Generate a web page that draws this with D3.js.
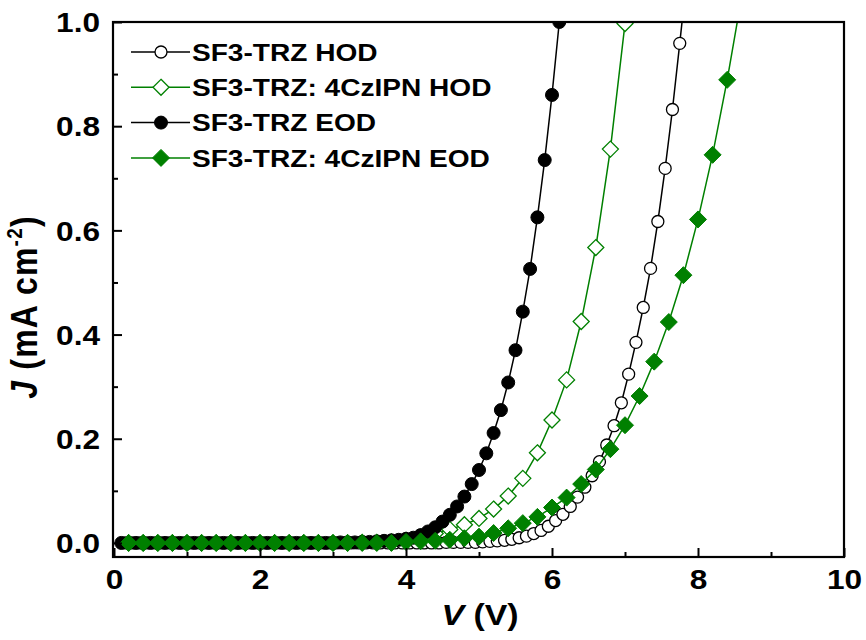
<!DOCTYPE html>
<html>
<head>
<meta charset="utf-8">
<script src="https://cdn.jsdelivr.net/npm/d3@7/dist/d3.min.js"></script>
<style>
  html, body { margin: 0; padding: 0; background: #fff; }
  svg { display: block; font-family: "Liberation Sans", Arial, sans-serif; }
</style>
</head>
<body>
<svg id="chart" width="866" height="640"></svg>
<script>
// Current density vs. voltage for hole-only (HOD) and electron-only (EOD) devices
const hodV = [0.15,0.25,0.35,0.45,0.55,0.65,0.75,0.85,0.95,1.05,1.15,1.25,1.35,1.45,1.55,1.65,1.75,1.85,1.95,2.05,2.15,2.25,2.35,2.45,2.55,2.65,2.75,2.85,2.95,3.05,3.15,3.25,3.35,3.45,3.55,3.65,3.75,3.85,3.95,4.05,4.15,4.25,4.35,4.45,4.55,4.65,4.75,4.85,4.95,5.05,5.15,5.25,5.35,5.45,5.55,5.65,5.75,5.85,5.95,6.05,6.15,6.25,6.35,6.45,6.55,6.65,6.75,6.85,6.95,7.05,7.15,7.25,7.35,7.45,7.55,7.65,7.75,7.85];
const hodJ = [0,0,0,0,0,0,0,0,0,0,0,0,0,0,0,0,0,0,0,0,0,0,0,0,0,0,0,0,0,0,0,0,0,0,0,0,0,0,0,0,0,0,0,0,0.001,0.001,0.001,0.001,0.001,0.002,0.003,0.004,0.005,0.007,0.010,0.013,0.018,0.024,0.032,0.043,0.055,0.070,0.088,0.107,0.129,0.156,0.188,0.225,0.269,0.324,0.385,0.452,0.527,0.617,0.719,0.832,0.959,1.090];

const czHodV = [0.2,0.4,0.6,0.8,1.0,1.2,1.4,1.6,1.8,2.0,2.2,2.4,2.6,2.8,3.0,3.2,3.4,3.6,3.8,4.0,4.2,4.4,4.6,4.8,5.0,5.2,5.4,5.6,5.8,6.0,6.2,6.4,6.6,6.8,7.0];
const czHodJ = [0,0,0,0,0,0,0,0,0,0,0,0,0,0,0,0,0.001,0.001,0.002,0.005,0.011,0.018,0.026,0.035,0.047,0.065,0.090,0.124,0.173,0.236,0.313,0.425,0.567,0.756,0.997];

const eodV = [0.1,0.2,0.3,0.4,0.5,0.6,0.7,0.8,0.9,1.0,1.1,1.2,1.3,1.4,1.5,1.6,1.7,1.8,1.9,2.0,2.1,2.2,2.3,2.4,2.5,2.6,2.7,2.8,2.9,3.0,3.1,3.2,3.3,3.4,3.5,3.6,3.7,3.8,3.9,4.0,4.1,4.2,4.3,4.4,4.5,4.6,4.7,4.8,4.9,5.0,5.1,5.2,5.3,5.4,5.5,5.6,5.7,5.8,5.9,6.0,6.1];
const eodJ = [0,0,0,0,0,0,0,0,0,0,0,0,0,0,0,0,0,0,0,0,0,0,0,0,0,0,0,0,0,0,0.001,0.001,0.001,0.002,0.002,0.003,0.004,0.005,0.006,0.008,0.010,0.015,0.022,0.030,0.041,0.054,0.070,0.089,0.113,0.140,0.172,0.211,0.255,0.308,0.370,0.444,0.526,0.625,0.735,0.860,1.000];

const czEodV = [0.2,0.4,0.6,0.8,1.0,1.2,1.4,1.6,1.8,2.0,2.2,2.4,2.6,2.8,3.0,3.2,3.4,3.6,3.8,4.0,4.2,4.4,4.6,4.8,5.0,5.2,5.4,5.6,5.8,6.0,6.2,6.4,6.6,6.8,7.0,7.2,7.4,7.6,7.8,8.0,8.2,8.4,8.6];
const czEodJ = [0,0,0,0,0,0,0,0,0,0,0,0,0,0,0,0,0,0,0,0.002,0.003,0.004,0.006,0.009,0.012,0.019,0.028,0.038,0.050,0.068,0.087,0.113,0.141,0.180,0.226,0.282,0.348,0.424,0.514,0.621,0.745,0.889,1.050];

const seriesNames = ["SF3-TRZ HOD", "SF3-TRZ: 4CzIPN HOD", "SF3-TRZ EOD", "SF3-TRZ: 4CzIPN EOD"];
const xTicks = [0, 2, 4, 6, 8, 10];
const xMinorTicks = [1, 3, 5, 7, 9];
const yTicks = [0.0, 0.2, 0.4, 0.6, 0.8, 1.0];
const yMinorTicks = [0.1, 0.3, 0.5, 0.7, 0.9];

const GREEN = "#008000";
const series = [
  { name: seriesNames[0], V: hodV,   J: hodJ,   color: "#000", shape: "circle",  filled: false },
  { name: seriesNames[1], V: czHodV, J: czHodJ, color: GREEN,  shape: "diamond", filled: false },
  { name: seriesNames[2], V: eodV,   J: eodJ,   color: "#000", shape: "circle",  filled: true  },
  { name: seriesNames[3], V: czEodV, J: czEodJ, color: GREEN,  shape: "diamond", filled: true  }
];

const L = 113, R = 844, T = 22, B = 557;
const x = d3.scaleLinear().domain([0, 10]).range([114, 844]);
const y = d3.scaleLinear().domain([-0.027, 1.0]).range([B, T]);
const SX = 1.13; // horizontal stretch of the bold lettering

const svg = d3.select("#chart");

svg.append("defs").append("clipPath").attr("id", "plotClip")
  .append("rect").attr("x", L).attr("y", T).attr("width", R - L).attr("height", B - T);

// marker path generators
function markerPath(shape, filled) {
  if (shape === "circle") {
    const r = filled ? 6.5 : 6;
    return `M${-r},0A${r},${r} 0 1,0 ${r},0A${r},${r} 0 1,0 ${-r},0Z`;
  }
  const d = filled ? 8.5 : 8;
  return `M0,${-d}L${d},0L0,${d}L${-d},0Z`;
}

// data
const plot = svg.append("g").attr("clip-path", "url(#plotClip)");
const line = d3.line().x(d => x(d[0])).y(d => y(d[1]));

series.forEach(s => {
  const pts = s.V.map((v, i) => [v, s.J[i]]);
  const g = plot.append("g");
  g.append("path").datum(pts)
    .attr("d", line)
    .attr("fill", "none")
    .attr("stroke", s.color)
    .attr("stroke-width", 1.5);
  g.selectAll("path.m").data(pts).join("path")
    .attr("class", "m")
    .attr("d", markerPath(s.shape, s.filled))
    .attr("transform", d => `translate(${x(d[0])},${y(d[1])})`)
    .attr("fill", s.filled ? s.color : "#fff")
    .attr("stroke", s.color)
    .attr("stroke-width", s.filled ? 1 : 1.3);
});

// axes with inward ticks
const axisFont = 28;
svg.append("g").attr("class", "xaxis").attr("transform", `translate(0,${B})`)
  .call(d3.axisBottom(x).tickValues(xTicks).tickSizeInner(-9).tickSizeOuter(0).tickPadding(12).tickFormat(d3.format("d")));
svg.append("g").attr("transform", `translate(0,${B})`)
  .call(d3.axisBottom(x).tickValues(xMinorTicks).tickSizeInner(-5).tickSizeOuter(0).tickFormat(""));
svg.append("g").attr("class", "yaxis").attr("transform", `translate(${L},0)`)
  .call(d3.axisLeft(y).tickValues(yTicks).tickSizeInner(-9).tickSizeOuter(0).tickPadding(11.5).tickFormat(d3.format(".1f")));
svg.append("g").attr("transform", `translate(${L},0)`)
  .call(d3.axisLeft(y).tickValues(yMinorTicks).tickSizeInner(-5).tickSizeOuter(0).tickFormat(""));

svg.selectAll(".domain").remove();
svg.selectAll(".tick line").attr("stroke", "#000").attr("stroke-width", 2);
svg.selectAll(".tick text")
  .attr("font-family", "'Liberation Sans', Arial, sans-serif")
  .attr("font-size", axisFont).attr("font-weight", "bold").attr("fill", "#000")
  .attr("transform", `scale(${SX},1)`);
svg.selectAll(".yaxis .tick text").attr("x", -11.5).attr("dy", "0.35em");

// frame
svg.append("rect").attr("x", L).attr("y", T).attr("width", R - L).attr("height", B - T)
  .attr("fill", "none").attr("stroke", "#000").attr("stroke-width", 2.2);

// axis titles
const yt = svg.append("text")
  .attr("transform", `translate(37,307) rotate(-90) scale(1,${SX})`)
  .attr("text-anchor", "middle")
  .attr("font-size", 32).attr("font-weight", "bold")
  .attr("letter-spacing", 1.2);
yt.append("tspan").attr("font-style", "italic").text("J");
yt.append("tspan").text(" (mA cm");
yt.append("tspan").attr("font-size", 19).attr("dy", -13).text("-2");
yt.append("tspan").attr("dy", 13).text(")");

const xt = svg.append("text")
  .attr("transform", `translate(480,625) scale(${SX},1)`)
  .attr("text-anchor", "middle")
  .attr("font-size", 30).attr("font-weight", "bold");
xt.append("tspan").attr("font-style", "italic").text("V");
xt.append("tspan").text(" (V)");

// legend
const leg = svg.append("g");
series.forEach((s, i) => {
  const cy = 52 + i * 35.3;
  leg.append("line").attr("x1", 131).attr("x2", 190).attr("y1", cy).attr("y2", cy)
    .attr("stroke", s.color).attr("stroke-width", 1.5);
  leg.append("path").attr("d", markerPath(s.shape, s.filled))
    .attr("transform", `translate(161,${cy})`)
    .attr("fill", s.filled ? s.color : "#fff")
    .attr("stroke", s.color).attr("stroke-width", s.filled ? 1 : 1.3);
  leg.append("text")
    .attr("transform", `translate(192,${cy + 8.7}) scale(1.17,1)`)
    .attr("font-size", 24).attr("font-weight", "bold").attr("fill", "#000")
    .text(s.name);
});
</script>
</body>
</html>
